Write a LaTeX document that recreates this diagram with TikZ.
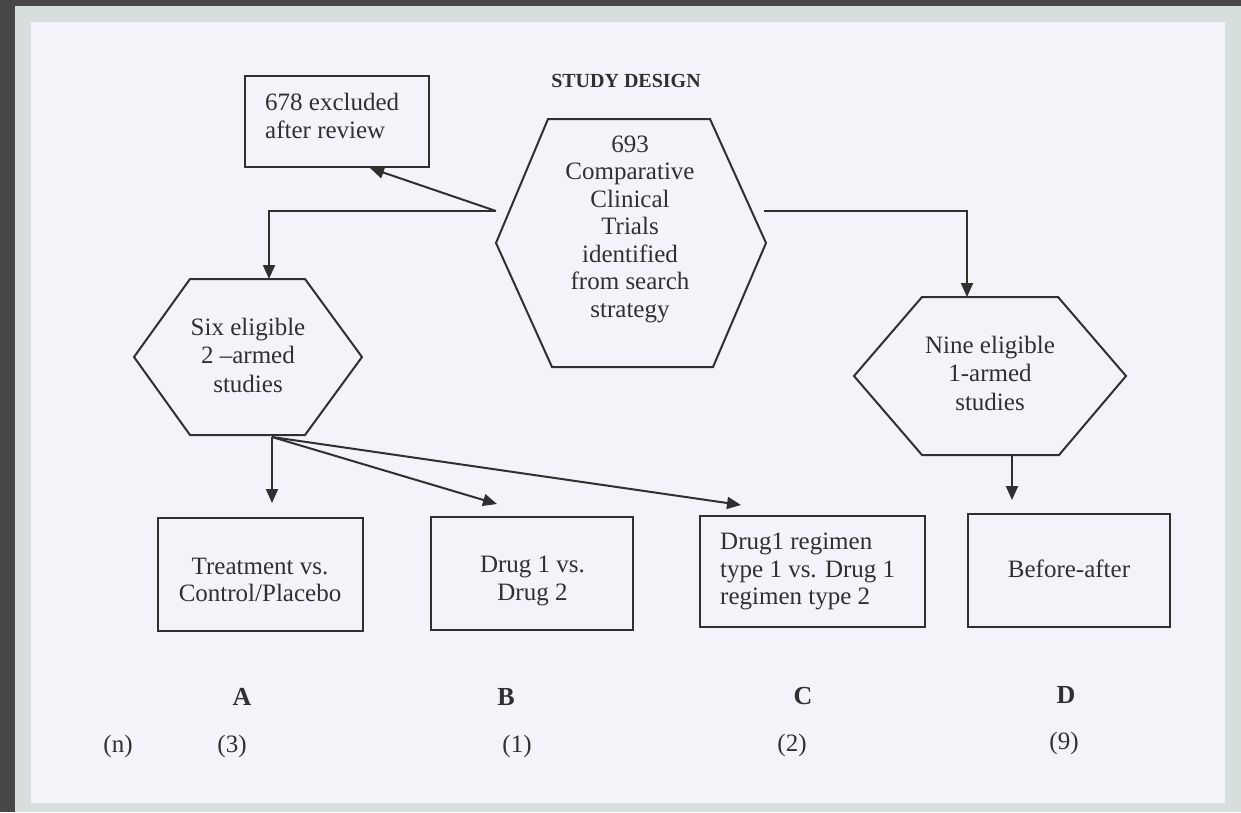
\documentclass[tikz,border=0pt]{standalone}
\usepackage{fontspec}
\setmainfont{Liberation Serif}
\usetikzlibrary{arrows.meta}
\definecolor{outerbg}{HTML}{474747}
\definecolor{mat}{HTML}{D7DFDE}
\definecolor{paper}{HTML}{F3F4FA}
\definecolor{ink}{HTML}{303030}
\definecolor{txt}{HTML}{303030}
\begin{document}
\begin{tikzpicture}[x=1pt,y=-1pt,
  outline/.style={draw=ink,line width=2pt,line join=miter},
  box/.style={outline,inner sep=0pt},
  body/.style={text=txt,font=\fontsize{25}{27.5}\selectfont,inner sep=0pt,align=center},
  bodyleft/.style={body,align=left},
  lett/.style={text=txt,font=\bfseries\fontsize{26}{28}\selectfont,inner sep=0pt,anchor=base},
  count/.style={text=txt,font=\fontsize{25}{27}\selectfont,inner sep=0pt,anchor=base},
  conn/.style={draw=ink,line width=2pt,-{Triangle[length=14pt,width=12pt]}}]
\useasboundingbox (0,0) rectangle (1241,812);
% mount and sheet
\fill[outerbg] (0,0) rectangle (1241,812);
\fill[mat] (15,6) rectangle (1241,812);
\fill[paper] (31,22) rectangle (1225,803);

% title
\node[text=txt,font=\bfseries\fontsize{20}{22}\selectfont,inner sep=0pt,anchor=base] (title) at (626,87) {STUDY DESIGN};

% hexagons
\draw[outline] (548,119) -- (710,119) -- (766,243) -- (713,367) -- (552,367) -- (496,243) -- cycle;
\node[body] (trials) at (630,229) {693\\Comparative\\Clinical\\Trials\\identified\\from search\\strategy};

\draw[outline] (190,279) -- (305,279) -- (362,357) -- (305,435) -- (190,435) -- (134,357) -- cycle;
\node[body,font=\fontsize{25}{28.5}\selectfont] (six) at (248,355) {Six eligible\\2 –armed\\studies};

\draw[outline] (922,297) -- (1058,297) -- (1126,376) -- (1059,455) -- (922,455) -- (854,376) -- cycle;
\node[body,font=\fontsize{25}{28.5}\selectfont] (nine) at (990,373) {Nine eligible\\1-armed\\studies};

% boxes
\node[box,minimum width=184pt,minimum height=91pt] (excl) at (337,121.5) {};
\node[bodyleft,anchor=west] (excltxt) at (265,116) {678 excluded\\after review};

\node[box,minimum width=205pt,minimum height=113pt] (A) at (260.5,574.5) {};
\node[body] (Atxt) at (260,580) {Treatment vs.\\Control/Placebo};

\node[box,minimum width=202pt,minimum height=113pt] (B) at (532,573.5) {};
\node[body] (Btxt) at (532.5,581) {Drug 1 vs.\\Drug 2};

\node[box,minimum width=225pt,minimum height=111pt] (C) at (812.5,571.5) {};
\node[bodyleft,anchor=west] (Ctxt) at (720,571.5) {Drug1 regimen\\type 1 vs. Drug 1\\regimen type 2};

\node[box,minimum width=202pt,minimum height=113pt] (D) at (1069,570.5) {};
\node[body] (Dtxt) at (1069,568.5) {Before-after};

% connector ends
\coordinate (jl) at (496,211);
\coordinate (jr) at (764,211);
\coordinate (excl-in) at (370,168);
\coordinate (six-in) at (269,279);
\coordinate (nine-in) at (967,297);
\coordinate (six-b) at (272,437);
\coordinate (nine-b) at (1012,455);
\coordinate (A-in) at (272,503);
\coordinate (B-in) at (497,504);
\coordinate (C-in) at (741,505);
\coordinate (D-in) at (1012,500);

% connectors
\draw[conn] (jl) -- (excl-in);
\draw[conn] (jl) -| (six-in);
\draw[conn] (jr) -| (nine-in);
\draw[conn] (six-b) -- (A-in);
\draw[conn] (six-b) -- (B-in);
\draw[conn] (six-b) -- (C-in);
\draw[conn] (nine-b) -- (D-in);

% group letters and counts
\node[lett] (labA) at (242,705) {A};
\node[lett] (labB) at (506,705) {B};
\node[lett] (labC) at (803,704) {C};
\node[lett] (labD) at (1066,703) {D};
\node[count] (nn) at (118,752) {(n)};
\node[count] (nA) at (232,752) {(3)};
\node[count] (nB) at (517,752) {(1)};
\node[count] (nC) at (792,751) {(2)};
\node[count] (nD) at (1064,749) {(9)};
\end{tikzpicture}
\end{document}
